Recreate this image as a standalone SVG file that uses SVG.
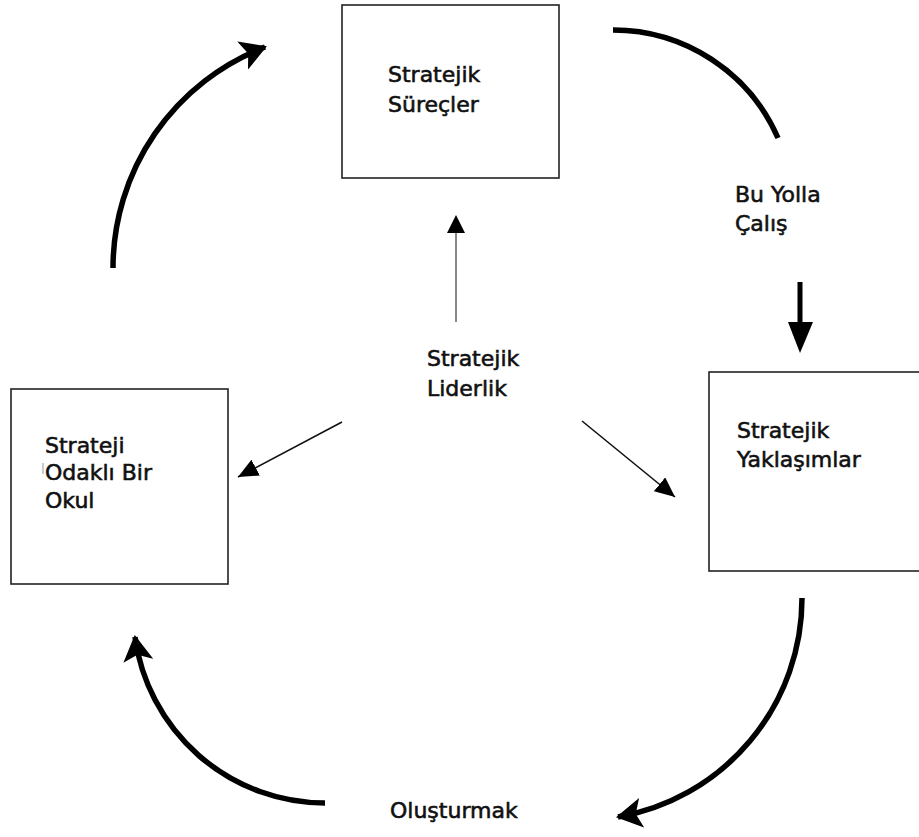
<svg xmlns="http://www.w3.org/2000/svg" width="919" height="837" viewBox="0 0 919 837">
  <style>
    .box { fill: #ffffff; stroke: #222; stroke-width: 1.6; }
    .lbl { font-family: "DejaVu Sans", "Liberation Sans", sans-serif; font-size: 22px; fill: #111; stroke: #111; stroke-width: 0.6; }
    .arc { fill: none; stroke: #000; stroke-width: 5.5; }
    .thin { fill: none; stroke: #111; stroke-width: 1.6; }
  </style>
  <defs>
    <marker id="bigHead" viewBox="0 0 26 30" refX="24" refY="15" markerWidth="26" markerHeight="30" markerUnits="userSpaceOnUse" orient="auto">
      <path d="M0,0 L26,15 L0,30 L6,15 z" fill="#000"/>
    </marker>
    <marker id="smallHead" viewBox="0 0 20 18" refX="20" refY="9" markerWidth="20" markerHeight="18" markerUnits="userSpaceOnUse" orient="auto">
      <path d="M0,0 L20,9 L0,18 z" fill="#000"/>
    </marker>
  </defs>
  <rect width="919" height="837" fill="#ffffff"/>

  <g id="node-surecler">
    <rect class="box" x="342" y="5" width="217" height="173"/>
    <text class="lbl" x="388" y="82">Stratejik</text>
    <text class="lbl" x="388" y="112">Süreçler</text>
  </g>

  <g id="node-odakli-okul">
    <rect class="box" x="11" y="389" width="217" height="195"/>
    <line x1="43" y1="463" x2="43" y2="474" stroke="#999" stroke-width="1"/>
    <text class="lbl" x="45" y="453">Strateji</text>
    <text class="lbl" x="45" y="480">Odaklı Bir</text>
    <text class="lbl" x="45" y="508">Okul</text>
  </g>

  <g id="node-yaklasimlar">
    <rect class="box" x="709" y="372" width="230" height="199"/>
    <text class="lbl" x="737" y="438">Stratejik</text>
    <text class="lbl" x="737" y="467">Yaklaşımlar</text>
  </g>

  <g id="node-liderlik">
    <text class="lbl" x="427" y="366">Stratejik</text>
    <text class="lbl" x="427" y="396">Liderlik</text>
  </g>

  <g id="label-bu-yolla">
    <text class="lbl" x="735" y="202">Bu Yolla</text>
    <text class="lbl" x="735" y="231">Çalış</text>
  </g>

  <g id="label-olusturmak">
    <text class="lbl" x="390" y="818">Oluşturmak</text>
  </g>

  <g id="connectors">
    <!-- outer cycle -->
    <path class="arc" d="M113,268 A237,237 0 0 1 265,47" marker-end="url(#bigHead)"/>
    <path class="arc" d="M613,30 A180,180 0 0 1 778,138"/>
    <path class="arc" d="M802,598 A222,222 0 0 1 618,817" marker-end="url(#bigHead)"/>
    <path class="arc" d="M325,803 A192,192 0 0 1 135,637" marker-end="url(#bigHead)"/>

    <!-- bold down arrow -->
    <line x1="800" y1="282" x2="800" y2="324" stroke="#000" stroke-width="5"/>
    <path d="M788,322 L813,322 L800,353 z" fill="#000"/>

    <!-- from the centre -->
    <line x1="456" y1="322" x2="456" y2="230" stroke="#888" stroke-width="2"/>
    <path d="M447,233 L465,233 L456,215 z" fill="#000"/>
    <line class="thin" x1="342" y1="422" x2="238" y2="477" marker-end="url(#smallHead)"/>
    <line class="thin" x1="582" y1="421" x2="675" y2="497" marker-end="url(#smallHead)"/>
  </g>
</svg>
